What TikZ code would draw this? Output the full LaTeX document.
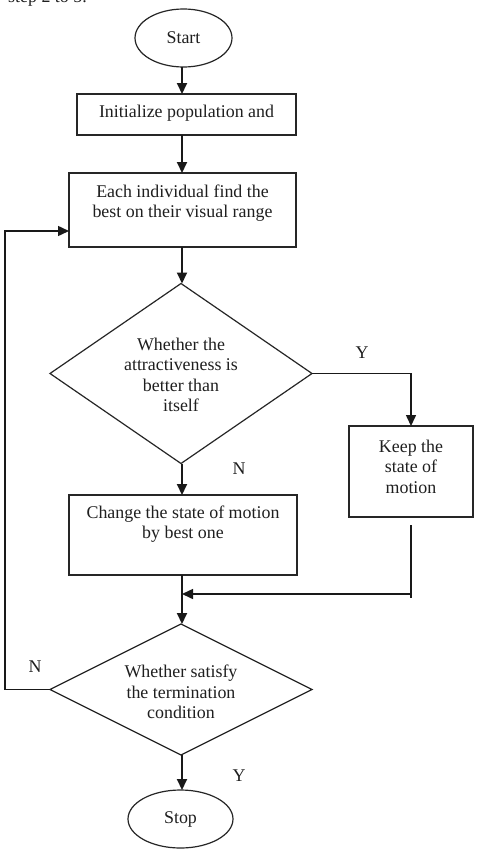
\documentclass[tikz,border=0pt]{standalone}
\usepackage{fontspec}
\setmainfont{Liberation Serif}
\usetikzlibrary{shapes.geometric,arrows.meta}
\begin{document}
\begin{tikzpicture}[x=1pt,y=-1pt,
  every node/.style={font=\fontsize{17.9}{20.5}\selectfont, text=black!88},
  box/.style={draw=black!85, line width=1.2pt, rectangle, inner sep=0pt, outer sep=0pt},
  term/.style={draw=black!85, line width=1.2pt, ellipse, inner sep=0pt, outer sep=0pt},
  decide/.style={draw=black!85, line width=1.2pt, diamond, inner sep=0pt, outer sep=0pt},
  txt/.style={align=center, inner sep=0pt},
  lbl/.style={inner sep=0pt},
  arr/.style={draw=black!90, line width=2pt, -{Triangle[width=10pt,length=11pt]}},
  conn/.style={draw=black!90, line width=1.5pt},
  connarr/.style={draw=black!90, line width=1.5pt, -{Triangle[width=10pt,length=11pt]}}
]
\clip (0,0) rectangle (477,857);
\fill[white] (0,0) rectangle (477,857);

% partially visible text at the top
\node[lbl, anchor=base west] (top) at (8,2) {step 2 to 5.};

% nodes
\node[term, minimum width=97pt, minimum height=58pt] (start) at (183.5,38) {};
\node[txt] (startt) at (183.5,38) {Start};

\node[box, minimum width=219pt, minimum height=41pt] (b1) at (186.5,114.5) {};
\node[txt] (b1t) at (186.5,113) {Initialize population and};

\node[box, minimum width=227pt, minimum height=74pt] (b2) at (182.5,210) {};
\node[txt] (b2t) at (182.5,203) {Each individual find the\\best on their visual range};

\node[decide, minimum width=262pt, minimum height=180pt] (d1) at (181,373.5) {};
\node[txt] (d1t) at (181,375) {Whether the\\attractiveness is\\better than\\itself};

\node[box, minimum width=124pt, minimum height=91pt] (keep) at (411,471.5) {};
\node[txt] (keept) at (411,466.5) {Keep the\\state of\\motion};

\node[box, minimum width=228pt, minimum height=80pt] (b3) at (183,535) {};
\node[txt] (b3t) at (183,524) {Change the state of motion\\by best one};

\node[decide, minimum width=262pt, minimum height=131pt] (d2) at (181,689.5) {};
\node[txt] (d2t) at (181,692) {Whether satisfy\\the termination\\condition};

\node[term, minimum width=105pt, minimum height=58pt] (stop) at (180.5,819) {};
\node[txt] (stopt) at (180.5,819) {Stop};

% labels
\node[lbl] (y1) at (362,353) {Y};
\node[lbl] (n1) at (239,469) {N};
\node[lbl] (n2) at (35,667) {N};
\node[lbl] (y2) at (239,776) {Y};

% connectors
\coordinate (trunk) at (182,0);
\draw[arr] (start.south -| trunk) -- (b1.north -| trunk);
\draw[arr] (b1.south -| trunk) -- (b2.north -| trunk);
\draw[arr] (b2.south -| trunk) -- (d1.north -| trunk);
\draw[arr] (d1.south -| trunk) -- (b3.north -| trunk);
\draw[arr] (b3.south -| trunk) -- (d2.north -| trunk);
\draw[arr] (d2.south -| trunk) -- (stop.north -| trunk);

% Y branch
\draw[connarr] (d1.east) -| (keep.north);

% merge from keep
\coordinate (m1) at (411,525);
\coordinate (m2) at (411,598);
\coordinate (m3) at (411,594);
\draw[conn] (m1) -- (m2);
\draw[connarr] (m3) -- (m3 -| trunk);

% feedback loop
\coordinate (fbt) at (5,231);
\draw[connarr] (d2.west) -| (fbt) -- (fbt -| b2.west);
\end{tikzpicture}
\end{document}
